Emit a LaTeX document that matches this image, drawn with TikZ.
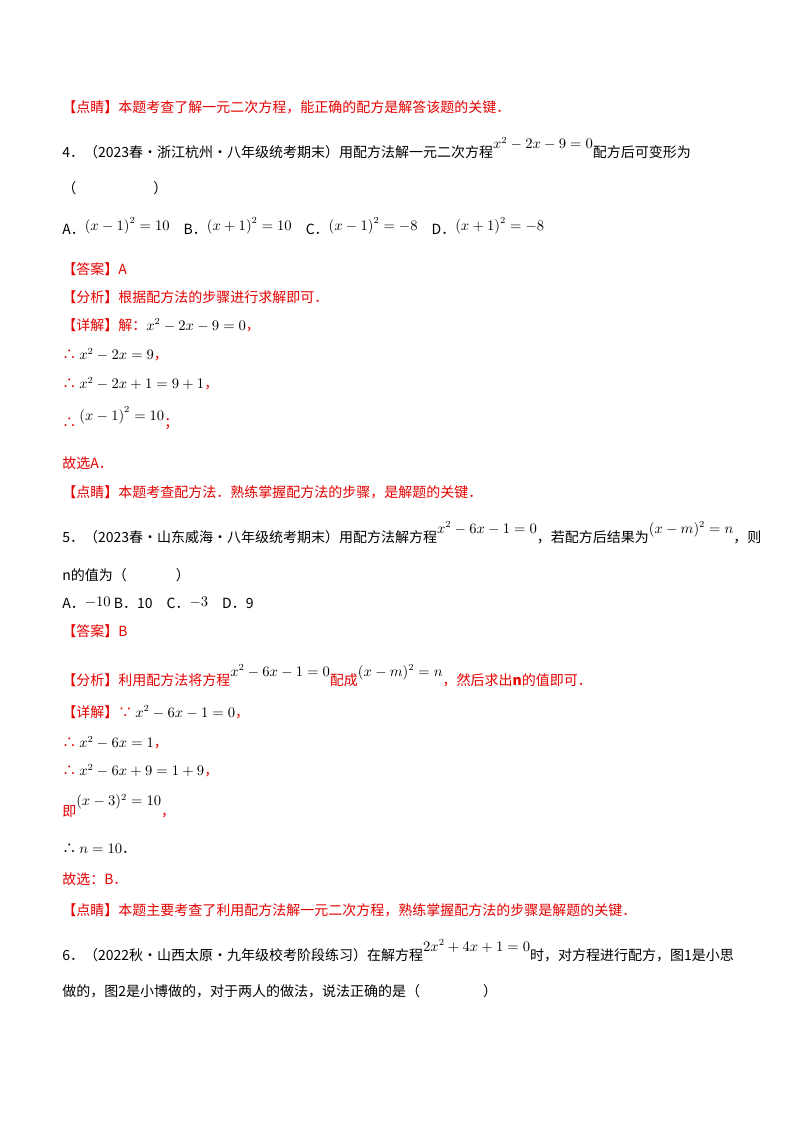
\documentclass[tikz,border=0pt]{standalone}
\usepackage{fontspec}
\setmainfont{Noto Sans CJK SC}
\definecolor{rd}{RGB}{230,0,0}
\begin{document}
\begin{tikzpicture}[x=0.75pt,y=-0.75pt,
 t/.style={anchor=west,inner sep=0pt,font=\fontsize{10.5}{12}\selectfont},
 r/.style={t,text=rd}]
\useasboundingbox[fill=white] (0,0) rectangle (800,1132);
\node[r] (l1) at (62,107) {【点睛】本题考查了解一元二次方程，能正确的配方是解答该题的关键．};
\node[t] (l2) at (62,148) {4．（2023春·浙江杭州·八年级统考期末）用配方法解一元二次方程\raisebox{7pt}{$x^2-2x-9=0$}配方后可变形为};
\node[t] (l3) at (62,188) {（\hspace{5.5em}）};
\node[t] (l4) at (62,226) {A．\raisebox{3pt}{$\left(x-1\right)^2=10$}\quad B．\raisebox{3pt}{$\left(x+1\right)^2=10$}\quad C．\raisebox{3pt}{$\left(x-1\right)^2=-8$}\quad D．\raisebox{3pt}{$\left(x+1\right)^2=-8$}};
\node[r] (l5) at (62,269) {【答案】A};
\node[r] (l6) at (62,297) {【分析】根据配方法的步骤进行求解即可．};
\node[r] (l7) at (62,325) {【详解】解：\textcolor{black}{$x^2-2x-9=0$}，};
\node[r] (l8) at (62,355) {∴ \textcolor{black}{$x^2-2x=9$}，};
\node[r] (l9) at (62,384) {∴ \textcolor{black}{$x^2-2x+1=9+1$}，};
\node[r] (l10) at (62,418) {∴ \raisebox{5pt}{\textcolor{black}{$\left(x-1\right)^2=10$}}；};
\node[r] (l11) at (62,463) {故选A．};
\node[r] (l12) at (62,492) {【点睛】本题考查配方法．熟练掌握配方法的步骤，是解题的关键．};
\node[t] (l13) at (62,533) {5．（2023春·山东威海·八年级统考期末）用配方法解方程\raisebox{7pt}{$x^2-6x-1=0$}，若配方后结果为\raisebox{7pt}{$(x-m)^2=n$}，则};
\node[t] (l14) at (62,575) {n的值为（\hspace{3.5em}）};
\node[t] (l15) at (62,603) {A．\raisebox{2pt}{$-10$} B．10\quad C．\raisebox{2pt}{$-3$}\quad D．9};
\node[r] (l16) at (62,631) {【答案】B};
\node[r] (l17) at (62,676) {【分析】利用配方法将方程\raisebox{7pt}{\textcolor{black}{$x^2-6x-1=0$}}配成\raisebox{7pt}{\textcolor{black}{$(x-m)^2=n$}}，然后求出\textbf{\textit{n}}的值即可．};
\node[r] (l18) at (62,712) {【详解】∵ \textcolor{black}{$x^2-6x-1=0$}，};
\node[r] (l19) at (62,743) {∴ \textcolor{black}{$x^2-6x=1$}，};
\node[r] (l20) at (62,771) {∴ \textcolor{black}{$x^2-6x+9=1+9$}，};
\node[r] (l21) at (62,806) {即\raisebox{8pt}{\textcolor{black}{$(x-3)^2=10$}}，};
\node[t] (l22) at (62,849) {∴ $n=10$．};
\node[r] (l23) at (62,879) {故选：B．};
\node[r] (l24) at (62,910) {【点睛】本题主要考查了利用配方法解一元二次方程，熟练掌握配方法的步骤是解题的关键．};
\node[t] (l25) at (62,951) {6．（2022秋·山西太原·九年级校考阶段练习）在解方程\raisebox{7pt}{$2x^2+4x+1=0$}时，对方程进行配方，图1是小思};
\node[t] (l26) at (62,991) {做的，图2是小博做的，对于两人的做法，说法正确的是（\hspace{4.5em}）};
\end{tikzpicture}
\end{document}
